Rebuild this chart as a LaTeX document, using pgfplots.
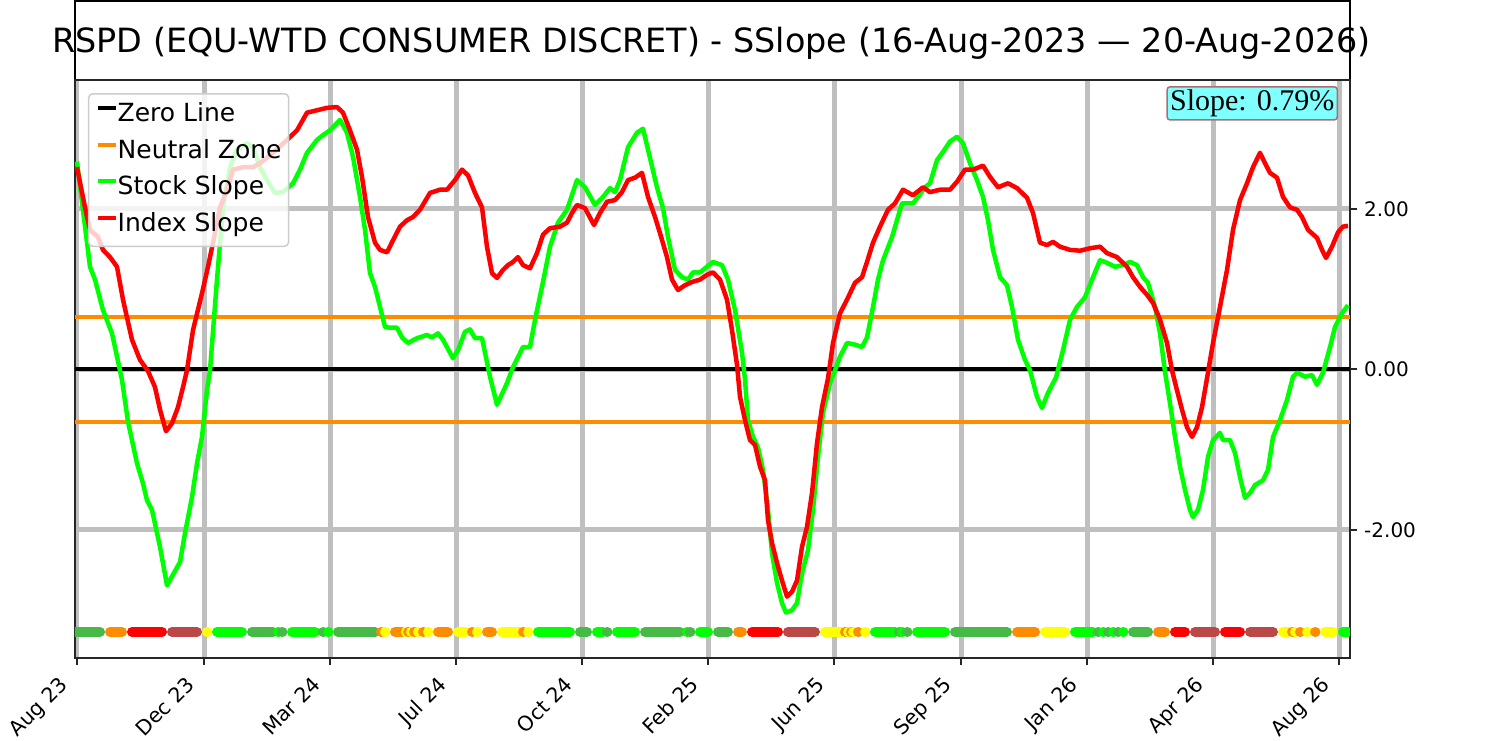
\documentclass[border=0pt]{standalone}
\usepackage{pgfplots}
\pgfplotsset{compat=1.18}
\usepackage{fontspec}
\setmainfont{DejaVu Sans}
\newfontfamily\seriffont{Liberation Serif}
\definecolor{bgreen}{RGB}{0,255,0}
\definecolor{mgreen}{RGB}{70,185,70}
\definecolor{borange}{RGB}{255,140,0}
\definecolor{bred}{RGB}{255,0,0}
\definecolor{bbrown}{RGB}{187,71,71}
\definecolor{byellow}{RGB}{255,255,0}
\definecolor{gridgray}{RGB}{191,191,191}
\definecolor{slopefill}{RGB}{128,255,255}
\definecolor{slopedraw}{RGB}{170,110,110}
\definecolor{legdraw}{RGB}{204,204,204}
\newcommand{\sg}[3]{\addplot[forget plot, color=#1, line width=10pt, line cap=round] coordinates {(#2,-3.27) (#3,-3.27)};}
\begin{document}
\begin{tikzpicture}[x=1pt,y=1pt]
\path[use as bounding box] (0,0) rectangle (1500,741);
\draw[line width=2pt, black] (75,661) rectangle (1350,740);
\node[anchor=base, font=\fontsize{33.4}{38}\selectfont, inner sep=0pt] at (711.5,688.5) {RSPD (EQU-WTD CONSUMER DISCRET) - SSlope (16-Aug-2023 — 20-Aug-2026)};
\begin{axis}[
  at={(75pt,83pt)}, anchor=south west, scale only axis,
  width=1275pt, height=578pt,
  xmin=75, xmax=1350, ymin=-3.595, ymax=3.607,
  xtick={77,204,330,456,582,708,834,961,1087,1213,1339},
  xticklabels={Aug 23,Dec 23,Mar 24,Jul 24,Oct 24,Feb 25,Jun 25,Sep 25,Jan 26,Apr 26,Aug 26},
  ytick={-2,0,2}, yticklabels={-2.00,0.00,2.00},
  xtick pos=left, ytick pos=right, yticklabel pos=right,
  tick align=outside, major tick length=7pt,
  tick style={line width=2pt, black!85},
  axis line style={line width=2pt, black!85},
  grid=major, major grid style={line width=5pt, color=gridgray},
  yticklabel style={font=\fontsize{20}{24}\selectfont, anchor=west, inner sep=1pt, xshift=6pt},
  xticklabel style={font=\fontsize{20.5}{24}\selectfont, xshift=-19pt, yshift=-10pt, rotate=45, anchor=north east, inner sep=0pt},
  legend style={at={(0.0102,0.9775)}, anchor=north west, draw=legdraw, line width=1.5pt,
    rounded corners=4pt, fill=white, fill opacity=0.8, text opacity=1, draw opacity=1,
    font=\fontsize{25}{28}\selectfont, inner xsep=7pt, inner ysep=10pt, row sep=13.5pt,
    /tikz/column sep=0pt,
    nodes={inner xsep=0pt, inner ysep=0pt, text height=18pt, text depth=5pt},
    cells={anchor=west}},
  legend image code/.code={\draw[#1, line width=4pt] (0pt,7pt) -- (18pt,7pt);},
]
\addplot[black, line width=4pt] coordinates {(75,0) (1350,0)};
\addlegendentry{Zero Line}
\addplot[borange, line width=4.5pt] coordinates {(75,0.654) (1350,0.654)};
\addlegendentry{Neutral Zone}
\addplot[borange, line width=4.5pt, forget plot] coordinates {(75,-0.654) (1350,-0.654)};
\addplot[bgreen, line width=4.5pt, line join=round] coordinates {
(77,2.59) (90,1.28) (95,1.12) (103,0.74) (112,0.45) (122,-0.13) (128,-0.65) (137,-1.17)
(143,-1.42) (147,-1.63) (152,-1.75) (160,-2.21) (167,-2.69) (180,-2.40) (185,-2.04) (192,-1.59)
(197,-1.17) (202,-0.84) (207,-0.26) (210,-0.01) (217,1.12) (223,2.02) (230,2.52) (237,2.74)
(247,2.82) (253,2.77) (260,2.52) (267,2.36) (275,2.20) (283,2.21) (293,2.32) (300,2.49)
(307,2.70) (317,2.86) (323,2.92) (330,2.98) (337,3.07) (340,3.11) (347,2.95) (353,2.65)
(360,2.15) (365,1.74) (370,1.20) (375,1.03) (380,0.78) (385,0.53) (390,0.52) (397,0.52)
(402,0.40) (408,0.33) (417,0.39) (427,0.43) (432,0.40) (438,0.45) (443,0.37) (453,0.14)
(458,0.24) (465,0.47) (470,0.50) (475,0.39) (482,0.39) (490,-0.09) (497,-0.44) (507,-0.17)
(513,0.03) (523,0.28) (530,0.28) (535,0.62) (542,1.03) (550,1.53) (558,1.83) (567,1.99)
(577,2.36) (585,2.27) (595,2.05) (603,2.15) (610,2.26) (615,2.21) (620,2.36) (628,2.77)
(637,2.95) (643,3.00) (648,2.74) (657,2.27) (663,2.01) (668,1.65) (675,1.24) (682,1.15)
(688,1.12) (693,1.21) (700,1.21) (707,1.28) (713,1.34) (722,1.30) (728,1.12) (735,0.74)
(742,0.21) (745,-0.13) (748,-0.63) (753,-0.84) (758,-0.97) (763,-1.25) (768,-1.75) (772,-2.29)
(777,-2.66) (782,-2.91) (786,-3.03) (792,-3.00) (797,-2.91) (802,-2.54) (808,-2.25) (813,-1.75)
(818,-1.09) (823,-0.54) (830,-0.17) (835,-0.01) (840,0.16) (847,0.33) (855,0.31) (862,0.28)
(867,0.40) (873,0.78) (878,1.12) (883,1.36) (892,1.65) (897,1.86) (902,2.07) (913,2.07)
(918,2.15) (925,2.27) (930,2.32) (937,2.61) (943,2.71) (950,2.84) (957,2.90) (963,2.82)
(970,2.57) (977,2.36) (983,2.15) (988,1.86) (993,1.49) (1000,1.15) (1007,1.05) (1012,0.78)
(1018,0.37) (1025,0.12) (1030,-0.01) (1037,-0.34) (1042,-0.48) (1048,-0.29) (1056,-0.10) (1063,0.24)
(1070,0.62) (1077,0.78) (1085,0.90) (1093,1.15) (1100,1.36) (1105,1.34) (1115,1.28) (1123,1.30)
(1130,1.34) (1137,1.30) (1143,1.15) (1148,1.08) (1155,0.78) (1160,0.45) (1165,-0.03) (1170,-0.42)
(1175,-0.84) (1180,-1.21) (1185,-1.50) (1190,-1.75) (1193,-1.84) (1198,-1.75) (1203,-1.50) (1208,-1.09)
(1213,-0.88) (1220,-0.79) (1223,-0.88) (1230,-0.88) (1235,-1.04) (1240,-1.34) (1245,-1.60) (1250,-1.54)
(1255,-1.44) (1263,-1.38) (1268,-1.25) (1273,-0.84) (1280,-0.63) (1287,-0.38) (1293,-0.09) (1297,-0.04)
(1305,-0.09) (1312,-0.07) (1317,-0.19) (1323,-0.04) (1330,0.28) (1335,0.53) (1342,0.70) (1348,0.80)
};
\addlegendentry{Stock Slope}
\addplot[bred, line width=4.5pt, line join=round] coordinates {
(77,2.52) (85,2.02) (90,1.74) (98,1.65) (103,1.49) (110,1.40) (117,1.28) (123,0.87)
(132,0.37) (140,0.12) (148,-0.02) (155,-0.22) (160,-0.50) (166,-0.77) (172,-0.67) (178,-0.47)
(183,-0.22) (187,-0.01) (193,0.49) (202,0.95) (208,1.28) (215,1.70) (220,2.02) (227,2.24)
(233,2.49) (243,2.52) (253,2.52) (260,2.57) (273,2.70) (287,2.86) (297,2.98) (307,3.20)
(317,3.23) (327,3.26) (337,3.27) (343,3.20) (350,2.98) (357,2.74) (362,2.40) (368,1.90)
(375,1.58) (380,1.49) (387,1.46) (393,1.61) (400,1.78) (407,1.86) (413,1.90) (420,1.99)
(430,2.20) (440,2.24) (447,2.24) (455,2.36) (462,2.49) (468,2.42) (475,2.20) (482,2.02)
(487,1.53) (492,1.20) (497,1.14) (503,1.24) (508,1.30) (513,1.34) (518,1.40) (523,1.30)
(530,1.26) (537,1.45) (543,1.68) (550,1.76) (560,1.78) (567,1.83) (572,1.95) (577,2.05)
(585,2.01) (594,1.80) (600,1.95) (607,2.09) (615,2.11) (622,2.21) (628,2.36) (635,2.39)
(642,2.45) (648,2.15) (655,1.90) (660,1.70) (667,1.40) (672,1.12) (678,0.99) (685,1.05)
(692,1.09) (700,1.12) (707,1.18) (713,1.21) (720,1.12) (727,0.87) (732,0.49) (737,0.06)
(740,-0.34) (745,-0.63) (750,-0.88) (755,-0.94) (760,-1.21) (765,-1.38) (768,-1.88) (772,-2.16)
(777,-2.41) (782,-2.63) (787,-2.83) (792,-2.77) (797,-2.63) (802,-2.21) (807,-1.96) (812,-1.54)
(817,-0.92) (822,-0.47) (828,-0.11) (833,0.33) (840,0.70) (847,0.87) (855,1.08) (862,1.15)
(867,1.34) (873,1.58) (880,1.78) (888,1.99) (895,2.07) (903,2.24) (913,2.17) (923,2.27)
(930,2.21) (940,2.24) (950,2.24) (957,2.34) (965,2.49) (973,2.49) (983,2.54) (990,2.40)
(998,2.27) (1008,2.32) (1017,2.26) (1027,2.14) (1033,1.95) (1040,1.58) (1047,1.55) (1053,1.59)
(1060,1.53) (1070,1.49) (1080,1.48) (1090,1.51) (1100,1.53) (1107,1.45) (1117,1.40) (1127,1.28)
(1133,1.15) (1140,1.03) (1147,0.93) (1153,0.83) (1160,0.62) (1167,0.33) (1172,-0.01) (1177,-0.26)
(1182,-0.50) (1187,-0.72) (1192,-0.84) (1197,-0.72) (1202,-0.47) (1207,-0.11) (1213,0.33) (1220,0.78)
(1227,1.24) (1233,1.74) (1240,2.11) (1247,2.32) (1253,2.52) (1260,2.70) (1265,2.57) (1270,2.45)
(1277,2.39) (1283,2.15) (1290,2.02) (1297,1.99) (1302,1.90) (1308,1.74) (1317,1.64) (1322,1.49)
(1326,1.39) (1332,1.53) (1338,1.71) (1343,1.78) (1348,1.79)
};
\addlegendentry{Index Slope}
% colour band
\sg{mgreen}{75}{100}
\sg{borange}{110}{122}
\sg{bred}{132}{162}
\sg{bbrown}{172}{197}
\sg{byellow}{207}{207.5}
\sg{bgreen}{217}{242}
\sg{mgreen}{252}{273}
\sg{bgreen}{278}{278.5}
\sg{mgreen}{282}{282.5}
\sg{bgreen}{292}{315}
\sg{mgreen}{323}{323.5}
\sg{bgreen}{328}{328.5}
\sg{mgreen}{338}{375}
\sg{borange}{381}{381.5}
\sg{byellow}{385}{385.5}
\sg{borange}{395}{402}
\sg{byellow}{406}{406.5}
\sg{borange}{408}{408.5}
\sg{byellow}{411}{411.5}
\sg{borange}{414}{414.5}
\sg{byellow}{418}{418.5}
\sg{borange}{423}{423.5}
\sg{byellow}{428}{428.5}
\sg{borange}{438}{448}
\sg{byellow}{458}{465}
\sg{borange}{472}{472.5}
\sg{byellow}{477}{477.5}
\sg{borange}{487}{492}
\sg{byellow}{502}{520}
\sg{borange}{523}{523.5}
\sg{byellow}{528}{528.5}
\sg{bgreen}{538}{570}
\sg{mgreen}{580}{587}
\sg{bgreen}{597}{603}
\sg{mgreen}{607}{607.5}
\sg{bgreen}{617}{635}
\sg{mgreen}{645}{680}
\sg{bgreen}{687}{687.5}
\sg{mgreen}{690}{690.5}
\sg{bgreen}{700}{708}
\sg{mgreen}{718}{728}
\sg{borange}{738}{742}
\sg{bred}{752}{778}
\sg{bbrown}{788}{815}
\sg{byellow}{825}{842}
\sg{borange}{845}{845.5}
\sg{byellow}{848}{848.5}
\sg{borange}{851}{851.5}
\sg{byellow}{853}{853.5}
\sg{borange}{858}{858.5}
\sg{byellow}{865}{865.5}
\sg{bgreen}{875}{895}
\sg{mgreen}{899}{899.5}
\sg{bgreen}{902}{902.5}
\sg{mgreen}{907}{907.5}
\sg{bgreen}{917}{945}
\sg{mgreen}{955}{1007}
\sg{borange}{1017}{1035}
\sg{byellow}{1045}{1065}
\sg{bgreen}{1075}{1093}
\sg{mgreen}{1098}{1098.5}
\sg{bgreen}{1103}{1103.5}
\sg{mgreen}{1108}{1108.5}
\sg{bgreen}{1113}{1113.5}
\sg{mgreen}{1118}{1118.5}
\sg{bgreen}{1123}{1123.5}
\sg{mgreen}{1133}{1148}
\sg{borange}{1158}{1165}
\sg{bred}{1175}{1185}
\sg{bbrown}{1195}{1215}
\sg{bred}{1225}{1240}
\sg{bbrown}{1250}{1273}
\sg{byellow}{1283}{1288}
\sg{borange}{1292}{1292.5}
\sg{byellow}{1295}{1295.5}
\sg{borange}{1300}{1300.5}
\sg{byellow}{1307}{1307.5}
\sg{borange}{1315}{1315.5}
\sg{byellow}{1325}{1333}
\sg{bgreen}{1343}{1348}
\node[anchor=north east, fill=slopefill, draw=slopedraw, rounded corners=3pt, line width=1.5pt,
  inner xsep=3pt, inner ysep=3pt, font=\seriffont\fontsize{30}{32}\selectfont]
  at (rel axis cs:0.9906,0.9896) {Slope: 0.79\%};
\end{axis}
\end{tikzpicture}
\end{document}
